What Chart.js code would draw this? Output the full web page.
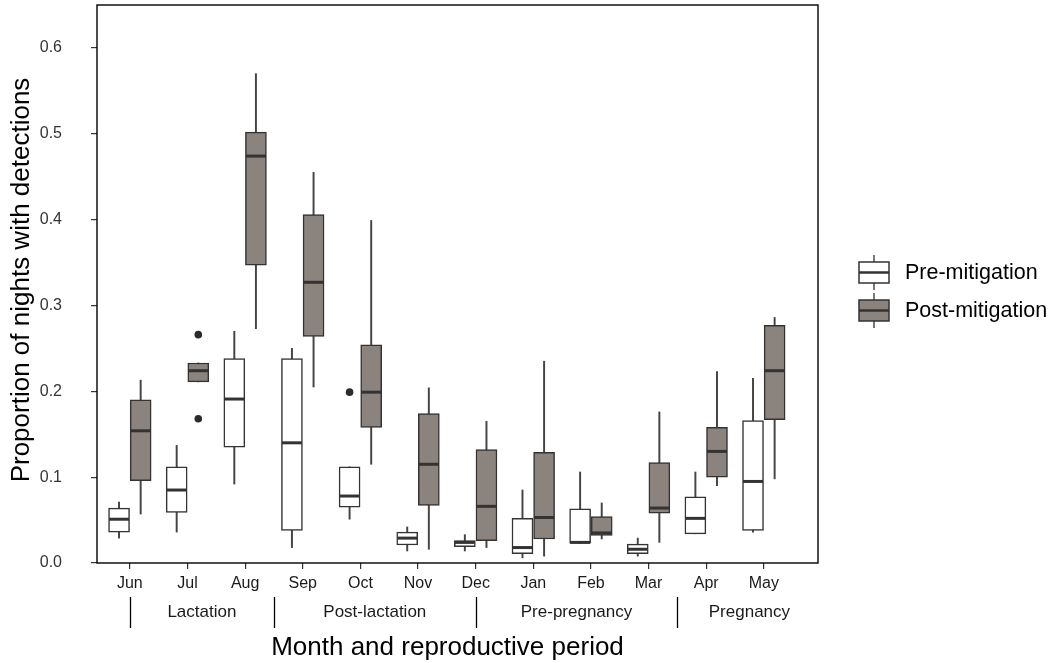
<!DOCTYPE html>
<html>
<head>
<meta charset="utf-8">
<script src="https://cdn.jsdelivr.net/npm/chart.js@4.4.1/dist/chart.umd.min.js"></script>
<style>
  html, body { margin: 0; padding: 0; background: #fff; overflow: hidden; }
  #wrap { width: 1053px; height: 663px; overflow: hidden; position: relative; }
  /* layout keeps ~8px above the plot box, shift the canvas up so the box starts at y=5 */
  #myChart { position: absolute; left: 0; top: -8px; }
</style>
</head>
<body>
<div id="wrap"><canvas id="myChart" width="1053" height="671"></canvas></div>
<script>
// Months (x categories)
const months = ['Jun', 'Jul', 'Aug', 'Sep', 'Oct', 'Nov', 'Dec', 'Jan', 'Feb', 'Mar', 'Apr', 'May'];

// Pre-mitigation box stats (whisker low, Q1, median, Q3, whisker high)
const preLow = [0.029, 0.036, 0.092, 0.018, 0.051, 0.014, 0.014, 0.006, 0.023, 0.008, 0.034, 0.036];
const preQ1 = [0.036, 0.059, 0.135, 0.038, 0.065, 0.021, 0.019, 0.011, 0.023, 0.011, 0.034, 0.038];
const preMed = [0.051, 0.085, 0.191, 0.140, 0.078, 0.029, 0.024, 0.018, 0.024, 0.016, 0.052, 0.095];
const preQ3 = [0.064, 0.112, 0.238, 0.238, 0.112, 0.036, 0.026, 0.052, 0.063, 0.022, 0.077, 0.166];
const preHigh = [0.071, 0.137, 0.270, 0.250, 0.112, 0.042, 0.033, 0.085, 0.106, 0.029, 0.106, 0.215];

// Post-mitigation box stats
const postLow = [0.057, 0.211, 0.273, 0.205, 0.115, 0.016, 0.018, 0.008, 0.028, 0.024, 0.090, 0.098];
const postQ1 = [0.096, 0.211, 0.347, 0.264, 0.158, 0.067, 0.026, 0.028, 0.032, 0.058, 0.100, 0.167];
const postMed = [0.154, 0.224, 0.474, 0.327, 0.199, 0.115, 0.066, 0.053, 0.035, 0.064, 0.130, 0.224];
const postQ3 = [0.190, 0.233, 0.502, 0.406, 0.254, 0.174, 0.132, 0.129, 0.054, 0.117, 0.158, 0.277];
const postHigh = [0.213, 0.233, 0.570, 0.455, 0.399, 0.204, 0.165, 0.235, 0.070, 0.176, 0.223, 0.286];

// Outliers
const preOutMonth = ['Oct'];
const preOutValue = [0.199];
const postOutMonth = ['Jul', 'Jul'];
const postOutValue = [0.266, 0.168];

// Reproductive periods (boundaries in month positions)
const periodNames = ['Lactation', 'Post-lactation', 'Pre-pregnancy', 'Pregnancy'];
const periodStart = [1, 3.5, 7, 10.5];
const periodEnd = [3.5, 7, 10.5, 13];

const yTicks = [0, 0.1, 0.2, 0.3, 0.4, 0.5, 0.6];

const seriesNames = ['Pre-mitigation', 'Post-mitigation'];
const FONT = "'Liberation Sans', Arial, sans-serif";
const DODGE = 0.1875; // half of dodge width
const PRE_FILL = '#ffffff';
const POST_FILL = '#8b837d';
const LINE = '#333333';

function boxDatasets(offset, lo, q1, med, q3, hi, fill) {
  let whisk = [], box = [], mid = [];
  months.forEach((m, i) => {
    let x = i + 1 + offset;
    whisk.push({ x: x, y: [lo[i], hi[i]] });
    box.push({ x: x, y: [q1[i], q3[i]] });
    mid.push({ x: x, y: med[i] });
  });
  return [
    { type: 'bar', data: whisk, grouped: false, barThickness: 1.3, backgroundColor: '#444', borderWidth: 0, order: 4 },
    { type: 'bar', data: box, grouped: false, barThickness: 21, backgroundColor: fill, borderColor: LINE, borderWidth: 1.5, borderSkipped: false, order: 3 },
    { type: 'scatter', data: mid, pointStyle: 'line', pointRadius: 10, pointBorderWidth: 3, borderColor: LINE, pointBorderColor: LINE, order: 2 }
  ];
}

function outlierData(names, vals, offset) {
  return names.map((n, i) => ({ x: months.indexOf(n) + 1 + offset, y: vals[i] }));
}

const datasets = []
  .concat(boxDatasets(-DODGE, preLow, preQ1, preMed, preQ3, preHigh, PRE_FILL))
  .concat(boxDatasets(DODGE, postLow, postQ1, postMed, postQ3, postHigh, POST_FILL));
datasets.push({
  type: 'scatter',
  data: outlierData(preOutMonth, preOutValue, -DODGE).concat(outlierData(postOutMonth, postOutValue, DODGE)),
  pointRadius: 3.8, pointBackgroundColor: '#2b2b2b', pointBorderWidth: 0, order: 1
});

// extra drawing: panel border, y labels, period row, titles, legend
const decorPlugin = {
  id: 'decor',
  afterDraw(chart) {
    const ctx = chart.ctx;
    const a = chart.chartArea;
    const xs = chart.scales.x;
    const ys = chart.scales.y;
    const b = a.bottom;
    ctx.save();
    // panel border
    ctx.strokeStyle = '#000';
    ctx.lineWidth = 1.4;
    ctx.strokeRect(a.left, a.top, a.right - a.left, a.bottom - a.top);

    // y tick labels (drawn here so they don't pad the layout)
    ctx.fillStyle = '#333';
    ctx.font = '16px ' + FONT;
    ctx.textAlign = 'right';
    ctx.textBaseline = 'middle';
    yTicks.forEach((v) => {
      ctx.fillText(v.toFixed(1), a.left - 35, ys.getPixelForValue(v));
    });

    // period separators + labels
    ctx.strokeStyle = '#000';
    ctx.lineWidth = 1.3;
    ctx.fillStyle = '#1a1a1a';
    ctx.font = '17px ' + FONT;
    ctx.textAlign = 'center';
    periodNames.forEach((p, i) => {
      let sx = Math.round(xs.getPixelForValue(periodStart[i])) + 0.5;
      ctx.beginPath();
      ctx.moveTo(sx, b + 34);
      ctx.lineTo(sx, b + 65);
      ctx.stroke();
      let cx = xs.getPixelForValue((periodStart[i] + periodEnd[i]) / 2);
      ctx.fillText(p, cx, b + 49);
    });

    // axis titles
    ctx.fillStyle = '#000';
    ctx.font = '26px ' + FONT;
    ctx.fillText('Month and reproductive period', (a.left + a.right) / 2 - 10, b + 85);
    ctx.save();
    ctx.translate(22, (a.top + a.bottom) / 2 - 4);
    ctx.rotate(-Math.PI / 2);
    ctx.fillText('Proportion of nights with detections', 0, 0);
    ctx.restore();

    // legend
    const fills = [PRE_FILL, POST_FILL];
    const cy = [a.top + 267.5, a.top + 305.5];
    ctx.font = '21.5px ' + FONT;
    ctx.textAlign = 'left';
    seriesNames.forEach((s, i) => {
      let x0 = 859, w = 30, h = 21, y0 = cy[i] - h / 2;
      ctx.strokeStyle = LINE;
      ctx.lineWidth = 1.3;
      ctx.beginPath();
      ctx.moveTo(x0 + w / 2, y0 - 7);
      ctx.lineTo(x0 + w / 2, y0 + h + 7);
      ctx.stroke();
      ctx.fillStyle = fills[i];
      ctx.fillRect(x0, y0, w, h);
      ctx.lineWidth = 1.5;
      ctx.strokeRect(x0, y0, w, h);
      ctx.lineWidth = 2.5;
      ctx.beginPath();
      ctx.moveTo(x0, cy[i]);
      ctx.lineTo(x0 + w, cy[i]);
      ctx.stroke();
      ctx.fillStyle = '#000';
      ctx.fillText(s, 905, cy[i] + 1);
    });
    ctx.restore();
  }
};

const ctx = document.getElementById('myChart');
new Chart(ctx, {
  type: 'scatter',
  data: { datasets: datasets },
  options: {
    responsive: false,
    animation: false,
    devicePixelRatio: 1,
    events: [],
    layout: { padding: { left: 0, top: 5, right: 235, bottom: 0 } },
    plugins: {
      legend: { display: false },
      tooltip: { enabled: false }
    },
    scales: {
      x: {
        type: 'linear',
        min: 0.43,
        max: 12.94,
        offset: false,
        grid: { drawOnChartArea: false, drawTicks: true, tickLength: 6, color: LINE, lineWidth: 1.2, offset: false },
        border: { display: false },
        afterBuildTicks: (s) => { s.ticks = months.map((m, i) => ({ value: i + 1 })); },
        afterFit: (s) => { s.height = 100; },
        ticks: {
          autoSkip: false,
          maxRotation: 0,
          padding: 5,
          color: '#1a1a1a',
          font: { family: FONT, size: 16 },
          callback: (v) => months[Math.round(v) - 1]
        }
      },
      y: {
        type: 'linear',
        min: 0,
        max: 0.65,
        grid: { drawOnChartArea: false, drawTicks: true, tickLength: 6, color: LINE, lineWidth: 1.2 },
        border: { display: false },
        afterBuildTicks: (s) => { s.ticks = yTicks.map((v) => ({ value: v })); },
        afterFit: (s) => { s.width = 97; },
        ticks: { display: false }
      }
    }
  },
  plugins: [decorPlugin]
});
</script>
</body>
</html>
